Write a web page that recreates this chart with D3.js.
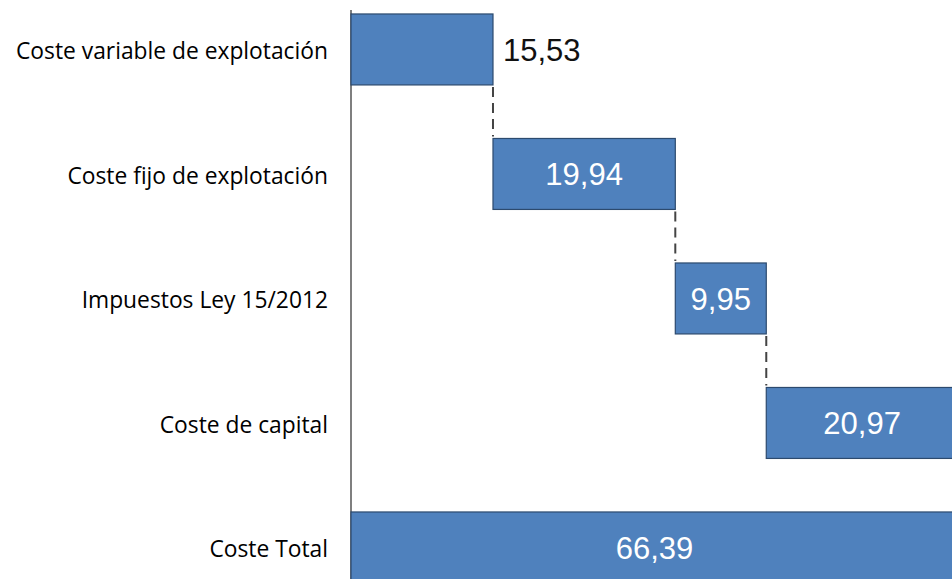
<!DOCTYPE html>
<html>
<head>
<meta charset="utf-8">
<script src="https://cdn.jsdelivr.net/npm/d3@7"></script>
<style>
  html, body { margin: 0; padding: 0; background: #fff; }
  svg { display: block; }
</style>
</head>
<body>
<script>
// datos del gráfico en cascada
const categories = ["Coste variable de explotación", "Coste fijo de explotación", "Impuestos Ley 15/2012", "Coste de capital", "Coste Total"];
const values = [15.53, 19.94, 9.95, 20.97, 66.39];
const valueLabels = ["15,53", "19,94", "9,95", "20,97", "66,39"];
const isTotal = [false, false, false, false, true];

const W = 952, H = 579;
const fill = "#4f81bd", stroke = "#2c4a6e";

const svg = d3.select("body").append("svg")
    .attr("width", W)
    .attr("height", H);

// inicio y fin acumulado de cada barra
let acc = 0;
const bars = categories.map((c, i) => {
    const start = isTotal[i] ? 0 : acc;
    const end = isTotal[i] ? values[i] : acc + values[i];
    if (!isTotal[i]) acc = end;
    return { cat: c, start: start, end: end, label: valueLabels[i], i: i };
});

const x = d3.scaleLinear()
    .domain([0, 66.39])
    .range([351, 958]);

const y = d3.scaleBand()
    .domain(categories)
    .range([-12.8, 609.7])
    .paddingInner(0.43)
    .paddingOuter(0.215);

// eje vertical
svg.append("line")
    .attr("x1", x(0)).attr("x2", x(0))
    .attr("y1", 10).attr("y2", H)
    .attr("stroke", "#555")
    .attr("stroke-width", 1.5);

// conectores discontinuos
svg.selectAll(".conn")
    .data(bars.slice(0, 3))
    .enter()
    .append("line")
    .attr("class", "conn")
    .attr("x1", d => x(d.end)).attr("x2", d => x(d.end))
    .attr("y1", d => y(d.cat) + y.bandwidth() + 2)
    .attr("y2", d => y(categories[d.i + 1]) - 2)
    .attr("stroke", "#444")
    .attr("stroke-width", 2)
    .attr("stroke-dasharray", "10,6");

svg.selectAll(".bar")
    .data(bars)
    .enter()
    .append("rect")
    .attr("class", "bar")
    .attr("x", d => x(d.start))
    .attr("y", d => y(d.cat))
    .attr("width", d => x(d.end) - x(d.start))
    .attr("height", y.bandwidth())
    .attr("fill", fill)
    .attr("stroke", stroke)
    .attr("stroke-width", 1.2);

// etiquetas de categoría
svg.selectAll(".cat")
    .data(bars)
    .enter()
    .append("text")
    .attr("class", "cat")
    .attr("x", 328)
    .attr("y", d => y(d.cat) + y.bandwidth() / 2)
    .attr("dy", "0.42em")
    .attr("text-anchor", "end")
    .style("font-family", "'Open Sans', sans-serif")
    .style("font-size", "22.8px")
    .attr("fill", "#000")
    .text(d => d.cat);

// etiquetas de valor: la primera fuera, el resto dentro en blanco
svg.selectAll(".val")
    .data(bars)
    .enter()
    .append("text")
    .attr("class", "val")
    .attr("x", d => d.i === 0 ? x(d.end) + 10 : (x(d.start) + x(d.end)) / 2)
    .attr("y", d => y(d.cat) + y.bandwidth() / 2)
    .attr("dy", "0.36em")
    .attr("text-anchor", d => d.i === 0 ? "start" : "middle")
    .style("font-family", "'Liberation Sans', Arial, sans-serif")
    .style("font-size", "31px")
    .attr("fill", d => d.i === 0 ? "#111" : "#fff")
    .text(d => d.label);
</script>
</body>
</html>
